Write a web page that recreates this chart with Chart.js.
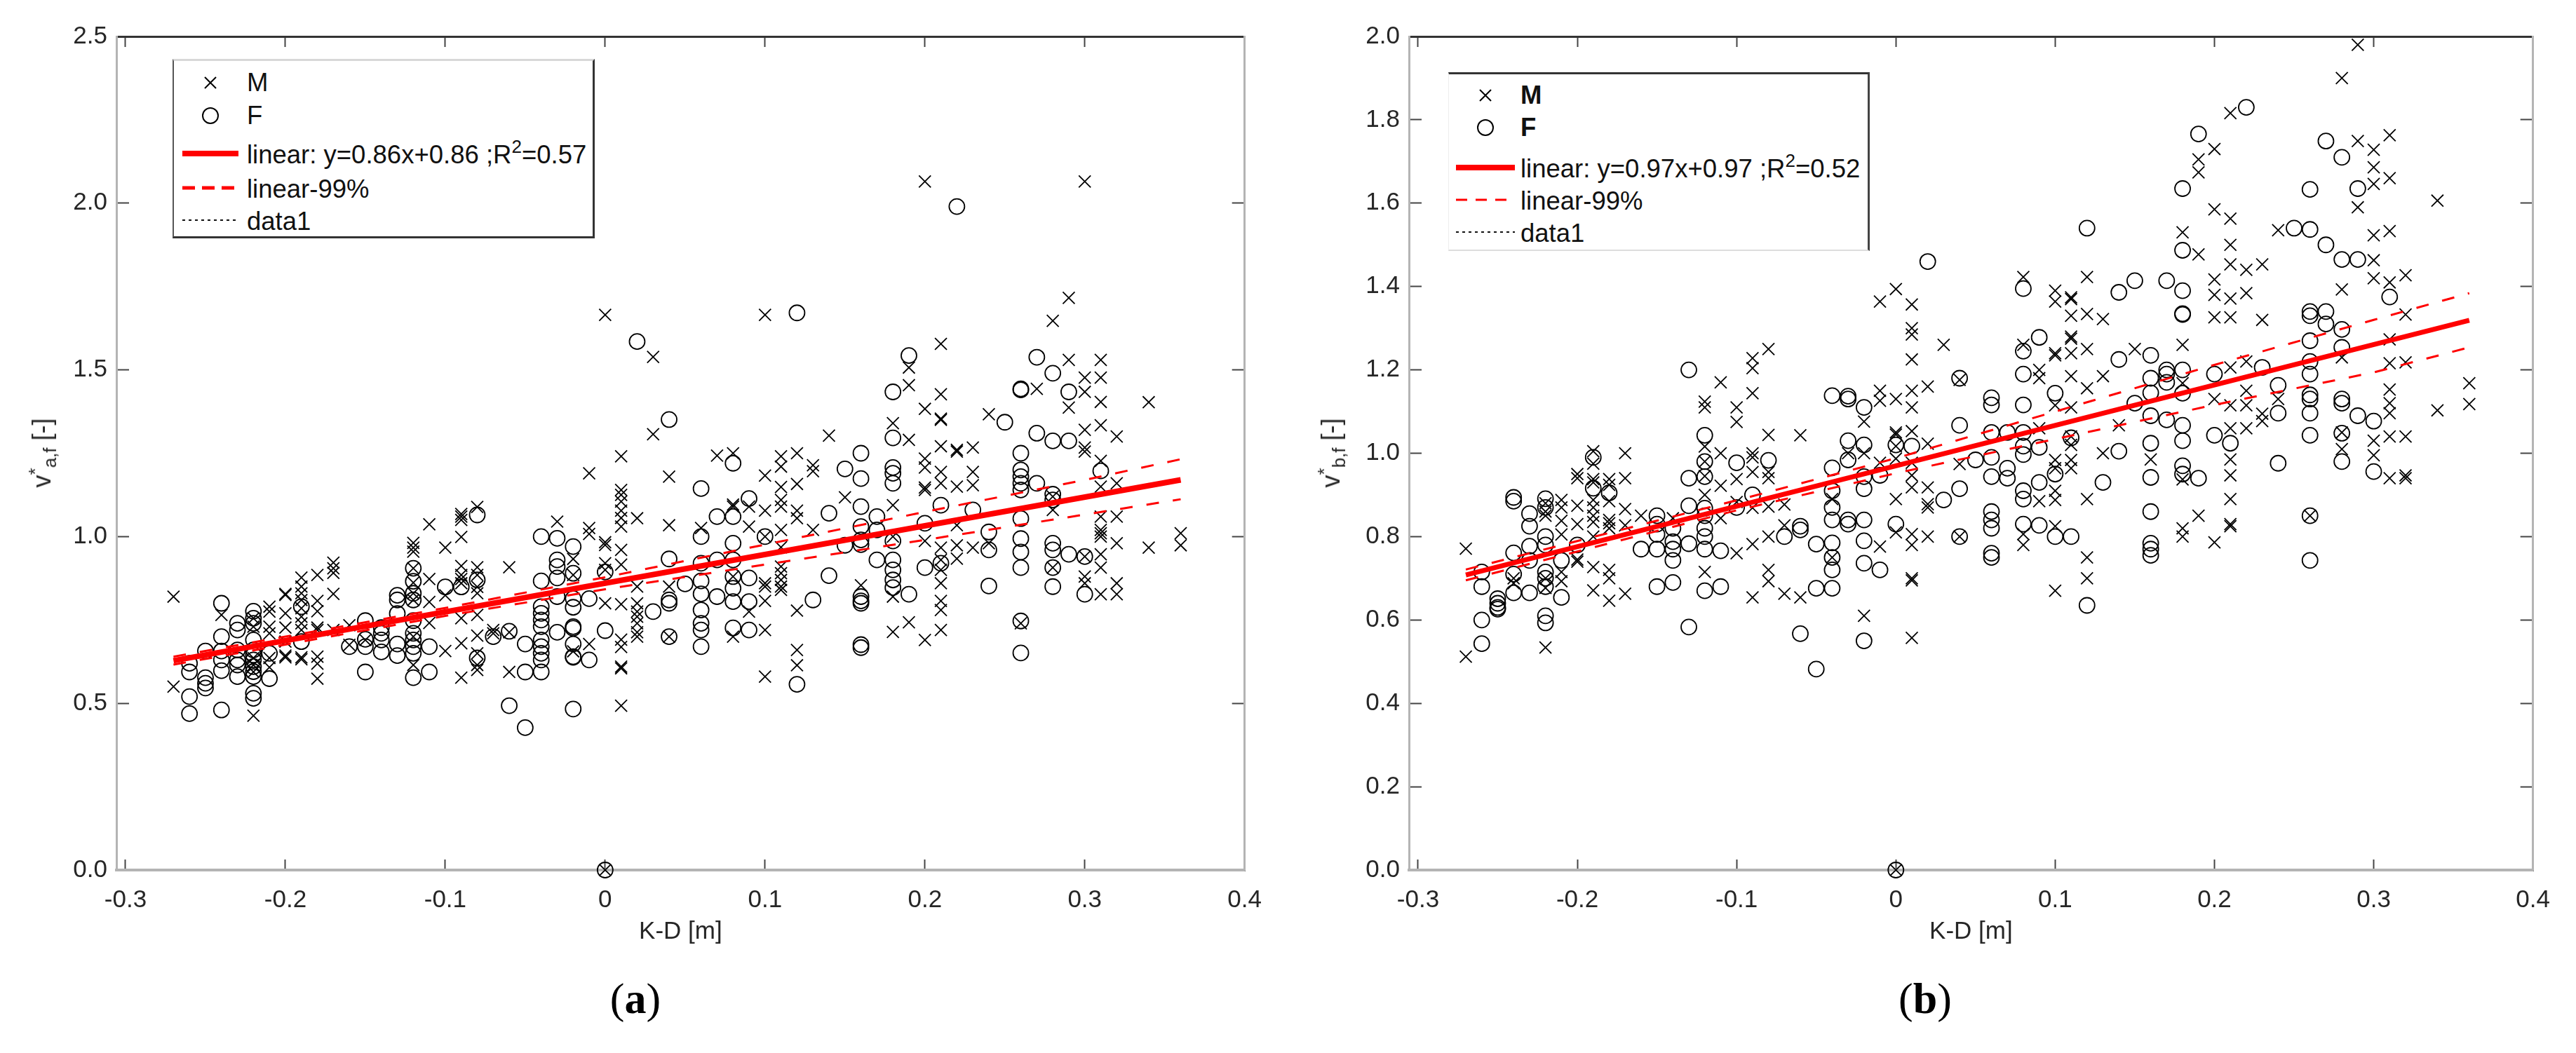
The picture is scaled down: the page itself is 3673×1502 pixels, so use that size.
<!DOCTYPE html>
<html>
<head>
<meta charset="utf-8">
<script src="https://cdn.jsdelivr.net/npm/chart.js@4"></script>
<style>
  html, body { margin: 0; background: #fff; }
  #page { position: relative; width: 3673px; height: 1502px; overflow: hidden; font-family: "Liberation Sans", Arial, sans-serif; }
  canvas { position: absolute; top: 0; }
  .legend { position: absolute; background: #fff; box-sizing: border-box; }
  .row { position: absolute; font-size: 36.5px; line-height: 36px; white-space: nowrap; color: #111; }
  .row sup { font-size: 26px; line-height: 0; position: relative; top: -15px; vertical-align: baseline; }
  .legend svg { position: absolute; overflow: visible; }
  .ytitle { position: absolute; font-size: 36px; line-height: 40px; white-space: nowrap; color: #262626; transform: translate(-50%, -50%) rotate(-90deg); }
  .ytitle sup, .ytitle sub { font-size: 26px; line-height: 0; }
  .caption { position: absolute; font-family: "Liberation Serif", serif; font-size: 62px; line-height: 70px; color: #000; transform: translateX(-50%); }
</style>
</head>
<body>
<div id="page">
  <canvas id="chartA" width="1836" height="1360" style="left:0"></canvas>
  <canvas id="chartB" width="1837" height="1360" style="left:1836px"></canvas>
</div>
<script>
// each row is [x, y, y, y...]
const maleA = [
  [-0.27,.82,.55],[-0.24,.765],[-0.22,.755,.73,.636,.615,.594,.463],[-0.21,.79,.775,.73,.71,.636,.608],
  [-0.20,.828,.825,.77,.727,.685,.643,.638],[-0.19,.877,.85,.83,.81,.785,.76,.74,.72,.638,.632],
  [-0.18,.885,.807,.776,.727,.72,.64,.619,.574],[-0.17,.922,.905,.891,.828,.72],[-0.16,.734,.675],[-0.15,.69],
  [-0.12,.981,.967,.955,.905,.862,.83,.81,.70,.615],[-0.11,1.037,.873,.804,.741],[-0.10,.967,.824,.657],
  [-0.09,1.068,1.06,1.05,.999,.912,.885,.873,.86,.755,.68,.577],[-0.08,1.089,.908,.885,.849,.83,.765,.703,.65,.615,.60],
  [-0.07,.72,.71],[-0.06,.908,.713,.594],[-0.03,1.045],[-0.02,.933,.885,.656],[-0.01,1.19,1.026,1.008,.678],
  [0,1.665,.983,.975,.92,.90,.80,0],[0.01,1.241,1.14,1.125,1.105,1.078,1.056,1.03,.96,.916,.797,.691,.669,.61,.605,.493],
  [0.02,1.055,.85,.80,.775,.76,.74,.713,.70],[0.03,1.539,1.307],[0.04,1.18,1.034,.85,.70],[0.06,1.026],[0.07,1.243],
  [0.08,1.25,1.096,1.09,.88,.70],[0.09,1.09,1.03,.775],[0.10,1.665,1.183,1.078,1.0,.86,.85,.807,.72,.58],
  [0.11,1.241,1.21,1.149,1.11,1.09,1.02,.968,.91,.89,.87,.85,.84],[0.12,1.25,1.158,1.078,1.055,.778,.66,.614],
  [0.13,1.214,1.196,1.02],[0.14,1.303],[0.15,1.118],[0.16,.854],[0.18,1.34,1.094,1.0,.82,.714],[0.19,1.507,1.454,1.29,.743],
  [0.20,2.065,1.383,1.234,1.207,1.147,1.14,.987,.69],[0.21,1.578,1.427,1.354,1.35,1.271,1.194,1.16,.967,.93,.90,.86,.807,.78,.72],
  [0.22,1.26,1.255,1.15,1.034,.974,.934],[0.23,1.267,1.194,1.154,.967],[0.24,1.367,.98],[0.26,.74],[0.27,1.443],
  [0.28,1.647,1.12,1.08,.907],[0.29,1.716,1.53,1.387],[0.30,2.065,1.477,1.434,1.32,1.267,1.255,.94,.88,.86],
  [0.31,1.53,1.477,1.404,1.334,1.227,1.15,1.06,1.02,1.01,1.0,.947,.907,.827],[0.32,1.30,1.16,1.06,.98,.86,.827],
  [0.34,1.403,.967],[0.36,1.01,.974]
];
const femaleA = [
  [-0.26,.62,.594,.52,.469],[-0.25,.657,.577,.56,.546],[-0.24,.80,.70,.657,.63,.598,.48],[-0.23,.74,.72,.66,.63,.615,.58],
  [-0.22,.776,.755,.74,.69,.66,.645,.63,.61,.595,.58,.53,.515],[-0.21,.65,.574],[-0.19,.79,.685],[-0.16,.67],
  [-0.15,.748,.692,.67,.594],[-0.14,.727,.71,.69,.654],[-0.13,.824,.81,.769,.678,.643],
  [-0.12,.905,.866,.83,.81,.748,.71,.69,.67,.65,.577],[-0.11,.67,.594],[-0.10,.849],[-0.09,.849],[-0.08,1.065,.87,.636],
  [-0.07,.70],[-0.06,.716,.493],[-0.05,.678,.594,.427],[-0.04,1.0,.867,.79,.77,.75,.73,.69,.67,.65,.63,.594],
  [-0.03,.995,.93,.91,.876,.82,.713],[-0.02,.97,.89,.814,.788,.73,.725,.678,.64,.638,.483],[-0.01,.814,.63],[0,.894,.718,0],
  [0.02,1.585],[0.03,.775],[0.04,1.351,.933,.81,.80,.70],[0.05,.858],[0.06,1.144,1.0,.92,.867,.828,.78,.74,.72,.67],
  [0.07,1.06,.93,.82],[0.08,1.22,1.06,.98,.93,.88,.845,.805,.726],[0.09,1.114,.876,.805,.72],[0.10,1.0],[0.12,1.671,.557],
  [0.13,.81],[0.14,1.07,.883],[0.15,1.203,.974],[0.16,1.25,1.174,1.09,1.03,.99,.976,.82,.807,.80,.676,.667],[0.17,1.06,1.02,.93],
  [0.18,1.434,1.296,1.207,1.19,1.16,.987,.93,.90,.87,.847],[0.19,1.543,.827],[0.20,1.04,.907],[0.21,1.094,.92],[0.22,1.99],
  [0.23,1.08],[0.24,1.014,.96,.852],[0.25,1.343],[0.26,1.443,1.44,1.25,1.2,1.18,1.16,1.14,1.054,.994,.954,.907,.747,.651],
  [0.27,1.538,1.31,1.16],[0.28,1.49,1.287,1.127,1.11,.98,.96,.907,.85],[0.29,1.434,1.287,.947],[0.30,.94,.827],[0.31,1.197]
];
const maleB = [
  [-0.27,.771,.512],[-0.24,.70,.688],[-0.22,.88,.86,.85,.70,.677,.534],[-0.21,.888,.87,.838,.805,.715,.693],
  [-0.20,.95,.94,.874,.83,.745,.74],[-0.19,1.005,.975,.938,.93,.888,.87,.85,.835,.80,.727,.671],
  [-0.18,.938,.924,.885,.84,.832,.82,.72,.70,.646],[-0.17,1.0,.94,.866,.827,.663],[-0.16,.85],[-0.14,.844],
  [-0.12,1.124,1.11,1.016,.98,.945,.90,.715],[-0.11,1.17,1.0,.922,.844],[-0.10,1.11,1.075,.938,.883,.76],
  [-0.09,1.228,1.204,1.144,1.0,.99,.955,.869,.782,.654],[-0.08,1.25,1.044,.955,.94,.872,.80,.72,.693],[-0.07,.877,.827,.663],
  [-0.06,1.043,.654],[-0.04,.89,.75],[-0.03,1.0],[-0.02,1.076,1.0,.61],[-0.01,1.364,1.15,1.126,.977,.776],
  [0,1.394,1.13,1.05,1.045,1.017,.987,.89,.81,0],[0.01,1.357,1.30,1.285,1.225,1.15,1.11,1.053,.977,.947,.918,.806,.78,.70,.695,.557],
  [0.02,1.16,1.023,.918,.878,.87,.80],[0.03,1.26],[0.04,1.176,.974,.80],[0.08,1.423,1.26,.806,.78],[0.09,1.2,1.18,1.06,.885],
  [0.10,1.39,1.364,1.24,1.235,1.115,.984,.964,.91,.888,.825,.67],[0.11,1.374,1.37,1.33,1.28,1.275,1.24,1.185,1.11,1.04,1.02,.984,.964],
  [0.12,1.423,1.334,1.25,1.156,.89,.75,.70],[0.13,1.322,1.185,1.0],[0.14,1.067],[0.15,1.25],[0.16,.985],
  [0.18,1.53,1.26,1.168,.937,.82,.80],[0.19,1.705,1.674,1.477,.85],[0.20,1.73,1.585,1.417,1.38,1.326,1.13,.786],
  [0.21,1.816,1.563,1.5,1.453,1.371,1.326,1.206,1.115,1.06,.985,.947,.89,.83,.825],[0.22,1.44,1.384,1.22,1.15,1.115,1.06],
  [0.23,1.453,1.32,1.095,1.077],[0.24,1.535,1.13],[0.26,.85],[0.28,1.9,1.393,1.23,1.05,1.01],[0.29,1.98,1.749,1.59],
  [0.30,1.728,1.686,1.646,1.523,1.463,1.42,1.03,.995],[0.31,1.763,1.66,1.533,1.41,1.273,1.216,1.153,1.12,1.096,1.04,.94],
  [0.32,1.427,1.333,1.218,1.04,.947,.94],[0.34,1.606,1.103],[0.36,1.168,1.118]
];
const femaleB = [
  [-0.26,.715,.68,.60,.543],[-0.25,.651,.64,.63,.626],[-0.24,.894,.885,.761,.71,.665],[-0.23,.855,.825,.777,.743,.665],
  [-0.22,.891,.87,.80,.78,.715,.70,.68,.61,.593],[-0.21,.743,.654],[-0.20,.78],[-0.19,.99,.916],[-0.18,.905],[-0.16,.77],
  [-0.15,.85,.83,.805,.77,.68],[-0.14,.82,.788,.77,.743,.69],[-0.13,1.2,.94,.874,.783,.583],
  [-0.12,1.043,.98,.944,.868,.85,.82,.80,.77,.67],[-0.11,.766,.68],[-0.10,.977,.87],[-0.09,.90],[-0.08,.983],[-0.07,.80],
  [-0.06,.825,.816,.567],[-0.05,.782,.676,.482],[-0.04,1.138,.965,.91,.87,.84,.785,.75,.72,.676],[-0.03,1.137,1.13,1.03,.984,.84,.83],
  [-0.02,1.11,1.02,.944,.915,.84,.79,.736,.55],[-0.01,.947,.72],[0,1.02,.83,0],[0.01,1.017],[0.02,1.46],[0.03,.888],
  [0.04,1.18,1.067,.915,.80],[0.05,.984],[0.06,1.133,1.116,1.05,.99,.944,.86,.84,.82,.76,.75],[0.07,1.05,.964,.94],
  [0.08,1.395,1.245,1.19,1.116,1.05,1.017,.997,.91,.89,.83],[0.09,1.278,1.014,.93,.827],[0.10,1.144,.95,.80],[0.11,1.037,.80],
  [0.12,1.54,.635],[0.13,.93],[0.14,1.386,1.225,1.005],[0.15,1.414,1.12],[0.16,1.235,1.18,1.145,1.09,1.024,.942,.86,.784,.77,.755],
  [0.17,1.414,1.2,1.19,1.17,1.08],[0.18,1.635,1.487,1.39,1.335,1.333,1.2,1.144,1.067,1.03,.97,.95],[0.19,1.766,.94],[0.20,1.19,1.043],
  [0.21,1.024],[0.22,1.83],[0.23,1.206],[0.24,1.163,1.096,.976],[0.25,1.54],
  [0.26,1.633,1.537,1.34,1.33,1.27,1.22,1.19,1.14,1.13,1.096,1.043,.85,.743],[0.27,1.749,1.5,1.34,1.31],
  [0.28,1.71,1.465,1.297,1.254,1.13,1.12,1.048,.98],[0.29,1.635,1.465,1.09],[0.30,1.077,.956],[0.31,1.375]
];

// fit lines and their 99% bands
const fitX = [-0.27, 0.36];
const fitA = [0.628, 1.17];
const fitB = [0.708, 1.319];
const bandX = [-0.27, -0.1, 0, 0.1, 0.2, 0.3, 0.36];
const upperA = [0.640, 0.786, 0.878, 0.976, 1.074, 1.170, 1.232];
const lowerA = [0.616, 0.762, 0.842, 0.916, 0.990, 1.066, 1.112];
const upperB = [0.721, 0.887, 0.988, 1.100, 1.212, 1.320, 1.384];
const lowerB = [0.695, 0.863, 0.952, 1.034, 1.116, 1.194, 1.254];

const xTicks = [-0.3, -0.2, -0.1, 0, 0.1, 0.2, 0.3, 0.4];
const yTicksA = [0, 0.5, 1.0, 1.5, 2.0, 2.5];
const yTicksB = [0, 0.2, 0.4, 0.6, 0.8, 1.0, 1.2, 1.4, 1.6, 1.8, 2.0];

function expand(cols) {
  return cols.flatMap(c => c.slice(1).map(y => ({ x: c[0], y: y })));
}
function pairs(xs, ys) {
  return xs.map((x, i) => ({ x: x, y: ys[i] }));
}

function axis(position, min, max, ticks, tickLen, labels) {
  const horizontal = position === 'top' || position === 'bottom';
  return {
    type: 'linear',
    position: position,
    min: min,
    max: max,
    afterBuildTicks: s => { s.ticks = ticks.map(v => ({ value: v })); },
    afterFit: s => {
      if (horizontal) s.height = position === 'bottom' ? 119 : 0;
      else s.width = position === 'left' ? 166 : 0;
    },
    border: { display: true, color: position === 'top' ? '#333' : '#b4b4b4', width: position === 'bottom' ? 4 : 3 },
    grid: { drawOnChartArea: false, drawTicks: true, tickLength: tickLen, tickColor: '#444', tickWidth: 2 },
    ticks: {
      display: labels,
      color: '#262626',
      font: { family: '"Liberation Sans", Arial, sans-serif', size: 35 },
      padding: horizontal ? 37 : 31,
      maxRotation: 0,
      autoSkip: false,
      callback: v => (horizontal && v === 0) ? '0' : Number(v).toFixed(1)
    },
    title: horizontal && labels
      ? { display: true, text: 'K-D [m]', color: '#262626', font: { family: '"Liberation Sans", Arial, sans-serif', size: 35 }, padding: { top: 0, bottom: 10 } }
      : { display: false }
  };
}

function drawChart(id, male, female, fit, upper, lower, yMax, yTicks, lineWidth, padLeft, padRight) {
  const xMin = -0.3057, xMax = 0.4;
  new Chart(document.getElementById(id), {
    type: 'scatter',
    data: {
      datasets: [
        { label: 'linear', data: pairs(fitX, fit), showLine: true, borderColor: '#ff0000', borderWidth: lineWidth, pointRadius: 0 },
        { label: 'linear-99%', data: pairs(bandX, upper), showLine: true, borderColor: '#ff0000', borderWidth: 3, borderDash: [18, 20], pointRadius: 0 },
        { label: 'linear-99% low', data: pairs(bandX, lower), showLine: true, borderColor: '#ff0000', borderWidth: 3, borderDash: [18, 20], pointRadius: 0 },
        { label: 'M', data: expand(male), pointStyle: 'crossRot', pointRadius: 12, pointBorderWidth: 1.8, pointBorderColor: '#000', clip: false },
        { label: 'F', data: expand(female), pointStyle: 'circle', pointRadius: 11, pointBorderWidth: 1.8, pointBorderColor: '#000', pointBackgroundColor: 'transparent', clip: false }
      ]
    },
    options: {
      responsive: false,
      animation: false,
      layout: { padding: { top: 45, left: padLeft, right: padRight, bottom: 0 } },
      plugins: { legend: { display: false }, tooltip: { enabled: false } },
      scales: {
        x: axis('bottom', xMin, xMax, xTicks, -15, true),
        x2: axis('top', xMin, xMax, xTicks, -15, false),
        y: axis('left', 0, yMax, yTicks, -18, true),
        y2: axis('right', 0, yMax, yTicks, -18, false)
      }
    }
  });
}

drawChart('chartA', maleA, femaleA, fitA, upperA, lowerA, 2.5, yTicksA, 8, 0, 61);
drawChart('chartB', maleB, femaleB, fitB, upperB, lowerB, 2.0, yTicksB, 7, 7, 56);

// legend box, drawn as page elements because of the superscript
function addLegend(box, rowY, fitLabel, sampleX, sampleW, textX, markerX, dash, dashW, boldNames, borders) {
  const page = document.getElementById('page');
  const div = document.createElement('div');
  div.className = 'legend';
  div.style.cssText = `left:${box[0]}px;top:${box[1]}px;width:${box[2]}px;height:${box[3]}px;${borders}`;
  page.appendChild(div);
  const names = ['M', 'F', fitLabel, 'linear-99%', 'data1'];
  names.forEach((name, i) => {
    const r = document.createElement('div');
    r.className = 'row';
    r.innerHTML = name;
    if (i < 2 && boldNames) r.style.fontWeight = 'bold';
    r.style.left = (textX - box[0]) + 'px';
    r.style.top = (rowY[i] - box[1] - 18) + 'px';
    div.appendChild(r);
  });
  const y = i => rowY[i] - box[1];
  const mx = markerX - box[0], sx = sampleX - box[0];
  const svg = `<svg width="${box[2]}" height="${box[3]}" style="left:0;top:0">
    <path d="M${mx - 8} ${y(0) - 8}L${mx + 8} ${y(0) + 8}M${mx - 8} ${y(0) + 8}L${mx + 8} ${y(0) - 8}" stroke="#000" stroke-width="2"/>
    <circle cx="${mx}" cy="${y(1)}" r="11" fill="none" stroke="#000" stroke-width="2"/>
    <line x1="${sx}" x2="${sx + sampleW}" y1="${y(2) - 2}" y2="${y(2) - 2}" stroke="#f00" stroke-width="8"/>
    <line x1="${sx}" x2="${sx + sampleW}" y1="${y(3) - 2}" y2="${y(3) - 2}" stroke="#f00" stroke-width="${dashW}" stroke-dasharray="${dash}"/>
    <line x1="${sx}" x2="${sx + sampleW}" y1="${y(4) - 2}" y2="${y(4) - 2}" stroke="#111" stroke-width="2" stroke-dasharray="4 5"/>
  </svg>`;
  div.insertAdjacentHTML('beforeend', svg);
}
addLegend([246, 84, 602, 256], [115, 162, 218, 267, 313], 'linear: y=0.86x+0.86 ;R<sup>2</sup>=0.57', 258, 80, 350, 298, '18 10', 5, false,
  'border-top:3px solid #d8d8d8;border-right:3px solid #333;border-bottom:3px solid #333;border-left:2px solid #555;');
addLegend([2065, 103, 601, 255], [133, 179, 238, 284, 330], 'linear: y=0.97x+0.97 ;R<sup>2</sup>=0.52', 2075, 84, 2167, 2117, '16 12', 3, true,
  'border-top:3px solid #333;border-right:3px solid #444;border-bottom:2px solid #ddd;border-left:1px solid #eee;');

function addText(cls, html, x, y) {
  const el = document.createElement('div');
  el.className = cls;
  el.innerHTML = html;
  el.style.left = x + 'px';
  el.style.top = y + 'px';
  document.getElementById('page').appendChild(el);
}
addText('ytitle', 'v<sup>*</sup><sub>a,f</sub> [-]', 60, 646);
addText('ytitle', 'v<sup>*</sup><sub>b,f</sub> [-]', 1898, 646);
addText('caption', '(<b>a</b>)', 906, 1389);
addText('caption', '(<b>b</b>)', 2745, 1389);
</script>
</body>
</html>
